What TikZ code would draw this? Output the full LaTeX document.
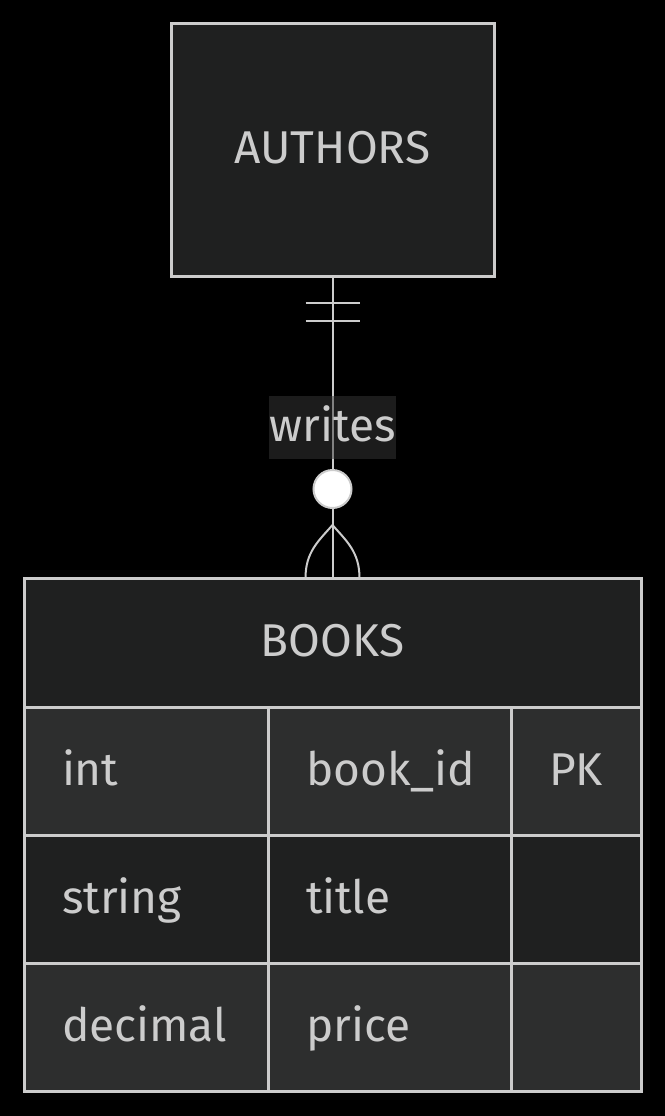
\documentclass[tikz,border=0pt]{standalone}
\usepackage{fontspec}
\setmainfont{Fira Sans}
\usetikzlibrary{calc}
\definecolor{boxfill}{HTML}{1F2020}
\definecolor{rowlight}{HTML}{2D2E2E}
\definecolor{edgegray}{HTML}{CCCCCC}
\definecolor{labelfill}{HTML}{383838}
\definecolor{txtgray}{HTML}{CCCCCC}
\begin{document}
\begin{tikzpicture}[x=0.5pt,y=-0.5pt]
		\tikzstyle{every node}+=[inner sep=0pt, outer sep=0pt, text=txtgray, font=\fontsize{23}{28}\selectfont]
		\tikzstyle{entbox}=[draw=edgegray, line width=1.5pt, fill=boxfill, text height=17pt, text depth=3pt]
		\tikzstyle{cell}=[entbox, anchor=north west, minimum height=64pt, align=left, inner xsep=19pt]
		\tikzstyle{edge}=[draw=edgegray, line width=1pt]
		\fill [black] (0,0) rectangle (665,1116);
		\useasboundingbox (0,0) rectangle (665,1116);
		% entities
		\node [entbox, minimum width=161.5pt, minimum height=126.5pt] (authors) at (332.5,149.5) {AUTHORS};
		\node [entbox, minimum width=308.5pt, minimum height=64.5pt] (booksHead) at (332.5,642.5) {BOOKS};
		\node [cell, fill=rowlight, text width=84pt] (r1c1) at (booksHead.south west) {int};
		\node [cell, fill=rowlight, text width=83.5pt] (r1c2) at (r1c1.north east) {book\_id};
		\node [cell, fill=rowlight, text width=27pt] (r1c3) at (r1c2.north east) {PK};
		\node [cell, text width=84pt] (r2c1) at (r1c1.south west) {string};
		\node [cell, text width=83.5pt] (r2c2) at (r2c1.north east) {title};
		\node [cell, text width=27pt] (r2c3) at (r2c2.north east) {};
		\node [cell, fill=rowlight, text width=84pt] (r3c1) at (r2c1.south west) {decimal};
		\node [cell, fill=rowlight, text width=83.5pt] (r3c2) at (r3c1.north east) {price};
		\node [cell, fill=rowlight, text width=27pt] (r3c3) at (r3c2.north east) {};
		% relation
		\draw [edge] (authors.south) -- (booksHead.north);
		\draw [edge] ($(authors.south)+(-27,27)$) -- ++(54,0);
		\draw [edge] ($(authors.south)+(-27,45)$) -- ++(54,0);
		\coordinate (footTop) at ($(booksHead.north)+(0,-53)$);
		\draw [edge] (footTop) .. controls ($(footTop)+(-14,16)$) and ($(booksHead.north)+(-27,-26)$) .. ($(booksHead.north)+(-27,0)$);
		\draw [edge] (footTop) .. controls ($(footTop)+(14,16)$) and ($(booksHead.north)+(27,-26)$) .. ($(booksHead.north)+(27,0)$);
		\node [circle, draw=edgegray, line width=1pt, fill=white, minimum size=19pt] (zeroMark) at (332.5,489) {};
		\node [fill=labelfill, fill opacity=0.5, text opacity=1, minimum width=58pt, minimum height=31.5pt, text height=17pt, text depth=3pt] (writesLbl) at (332.5,427.5) {writes};
	\end{tikzpicture}
\end{document}
